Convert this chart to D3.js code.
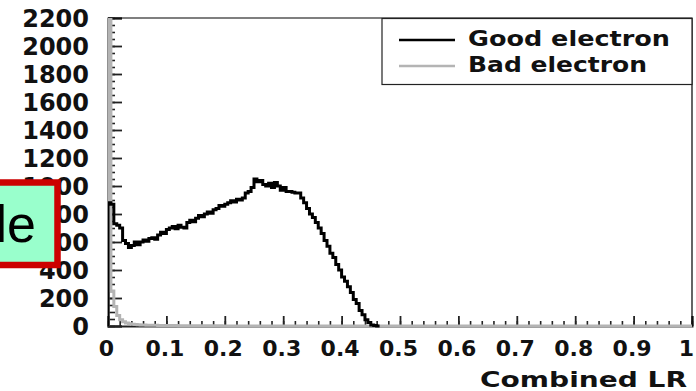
<!DOCTYPE html>
<html>
<head>
<meta charset="utf-8">
<script src="https://cdn.jsdelivr.net/npm/d3@7"></script>
<style>
  body { margin: 0; background: #fff; }
  svg { display: block; }
</style>
</head>
<body>
<svg id="chart" width="696" height="391"></svg>
<script>
// histogram bins, width 0.005 in Combined LR
var binWidth = 0.005;
var goodCounts = [880, 870, 730, 720, 700, 610, 590, 560, 575, 600,
                  580, 600, 615, 605, 625, 630, 620, 650, 670, 660,
                  690, 700, 710, 695, 720, 705, 700, 740, 755, 745,
                  770, 790, 780, 800, 815, 805, 830, 840, 860, 855,
                  870, 880, 895, 885, 905, 900, 915, 950, 960, 990,
                  1050, 1030, 1040, 1010, 1000, 1020, 990, 1025, 1000, 970,
                  990, 960, 960, 955, 950, 950, 915, 880, 840, 800,
                  775, 740, 700, 660, 610, 570, 520, 490, 440, 400,
                  350, 320, 280, 240, 190, 160, 110, 80, 45, 25,
                  8, 3, 0];
var badCounts = [5000, 250, 140, 75, 45, 30, 22, 16, 12, 10,
                 9, 8, 7, 6, 6, 5, 5, 4, 4, 4,
                 3, 3, 3, 3, 2, 2, 2, 2, 2, 2,
                 1, 1, 1, 1, 1, 1, 1, 1, 1, 0];
var yMajor = [0, 200, 400, 600, 800, 1000, 1200, 1400, 1600, 1800, 2000, 2200];
var yMinor = d3.range(0, 2201, 50);
var xMajor = [0, 0.1, 0.2, 0.3, 0.4, 0.5, 0.6, 0.7, 0.8, 0.9, 1];
var xMinor = d3.range(0, 51).map(d => d / 50);
var seriesNames = ["Good electron", "Bad electron"];
var seriesColors = ["#000000", "#b4b4b4"];

var margin = { top: 18, right: 4, bottom: 65, left: 108 };
var width = 696, height = 391;

var svg = d3.select("#chart");

var x = d3.scaleLinear().domain([0, 1]).range([margin.left, width - margin.right]);
var y = d3.scaleLinear().domain([0, 2200]).range([height - margin.bottom, margin.top]);

var font = "'DejaVu Sans', sans-serif";

// minor ticks
svg.append("g")
    .attr("transform", `translate(${margin.left},0)`)
    .call(d3.axisLeft(y).tickValues(yMinor).tickSize(-7).tickFormat(""))
    .call(g => g.select(".domain").remove())
    .selectAll("line").attr("stroke", "#222").attr("stroke-width", 1.6);

svg.append("g")
    .attr("transform", `translate(0,${height - margin.bottom})`)
    .call(d3.axisBottom(x).tickValues(xMinor).tickSize(-5).tickFormat(""))
    .call(g => g.select(".domain").remove())
    .selectAll("line").attr("stroke", "#222").attr("stroke-width", 1.6);

// major ticks + labels
var yAxis = svg.append("g")
    .attr("transform", `translate(${margin.left},0)`)
    .call(d3.axisLeft(y).tickValues(yMajor).tickSize(-14).tickPadding(19)
        .tickFormat(d3.format("d")));
yAxis.selectAll("line").attr("stroke", "#222").attr("stroke-width", 1.8);
yAxis.select(".domain").attr("stroke", "#222").attr("stroke-width", 2);
yAxis.selectAll("text")
    .attr("dy", "0.36em")
    .style("font-family", font).style("font-weight", "bold")
    .style("font-size", "24px").attr("fill", "#111");

var xAxis = svg.append("g")
    .attr("transform", `translate(0,${height - margin.bottom})`)
    .call(d3.axisBottom(x).tickValues(xMajor).tickSize(-10).tickPadding(14)
        .tickFormat(d => String(+d.toFixed(1))));
xAxis.selectAll("line").attr("stroke", "#222").attr("stroke-width", 1.8);
xAxis.select(".domain").attr("stroke", "#222").attr("stroke-width", 2);
xAxis.selectAll("text")
    .attr("x", d => d === 1 ? -6 : -2)
    .style("font-family", font).style("font-weight", "bold")
    .style("font-size", "22px").attr("fill", "#111");

// frame top and right
svg.append("path")
    .attr("d", `M${x(0)},${y(2200)}H${x(1)}V${y(0)}`)
    .attr("fill", "none").attr("stroke", "#000").attr("stroke-width", 1.2);

// histograms
svg.append("clipPath").attr("id", "frame")
    .append("rect")
    .attr("x", x(0)).attr("y", y(2200))
    .attr("width", x(1) - x(0)).attr("height", y(0) - y(2200) + 2);

function stepPoints(counts, xEnd) {
    var pts = [[0, 0]];
    counts.forEach((c, i) => pts.push([i * binWidth, c]));
    pts.push([counts.length * binWidth, 0]);
    if (xEnd) pts.push([xEnd, 0]);
    return pts;
}

var line = d3.line()
    .x(d => x(d[0]))
    .y(d => y(d[1]))
    .curve(d3.curveStepAfter);

var plot = svg.append("g").attr("clip-path", "url(#frame)");

plot.append("path")
    .datum(stepPoints(badCounts, 1))
    .attr("d", line)
    .attr("fill", "none")
    .attr("stroke", seriesColors[1])
    .attr("stroke-width", 3);

plot.append("path")
    .datum(stepPoints(goodCounts))
    .attr("d", line)
    .attr("fill", "none")
    .attr("stroke", seriesColors[0])
    .attr("stroke-width", 3);

// x title
svg.append("text")
    .attr("x", 687).attr("y", 387)
    .attr("text-anchor", "end")
    .attr("textLength", 207).attr("lengthAdjust", "spacingAndGlyphs")
    .style("font-family", font).style("font-weight", "bold")
    .style("font-size", "22px").attr("fill", "#111")
    .text("Combined LR");

// legend
var legend = svg.append("g");
legend.append("rect")
    .attr("x", 382).attr("y", 18.5)
    .attr("width", 310).attr("height", 66)
    .attr("fill", "#fff").attr("stroke", "#222").attr("stroke-width", 1.2);

var legendLens = [202, 179];
seriesNames.forEach((name, i) => {
    var ly = 40 + i * 26;
    legend.append("line")
        .attr("x1", 399).attr("x2", 455)
        .attr("y1", ly).attr("y2", ly)
        .attr("stroke", seriesColors[i]).attr("stroke-width", 2.4);
    legend.append("text")
        .attr("x", 468).attr("y", ly + 6)
        .attr("textLength", legendLens[i]).attr("lengthAdjust", "spacingAndGlyphs")
        .style("font-family", font).style("font-weight", "bold")
        .style("font-size", "22px").attr("fill", "#111")
        .text(name);
});

// overlapping label box on the left
svg.append("rect")
    .attr("x", -10).attr("y", 182.5)
    .attr("width", 67.5).attr("height", 82.5)
    .attr("fill", "#99ffcc")
    .attr("stroke", "#cc0000").attr("stroke-width", 6.5);

svg.append("text")
    .attr("x", 36).attr("y", 242)
    .attr("text-anchor", "end")
    .style("font-family", "'Liberation Sans', Arial, sans-serif")
    .style("font-size", "52px").attr("fill", "#000")
    .text("le");
</script>
</body>
</html>
